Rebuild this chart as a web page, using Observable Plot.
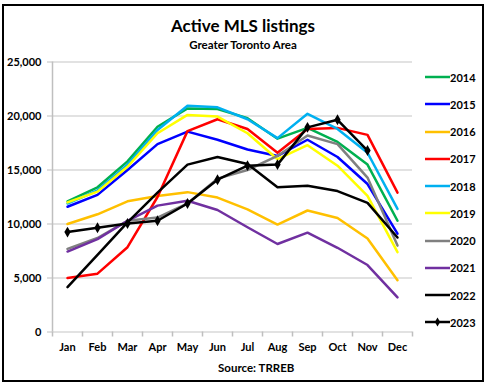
<!DOCTYPE html>
<html>
<head>
<meta charset="utf-8">
<script src="https://cdn.jsdelivr.net/npm/d3@7"></script>
<script src="https://cdn.jsdelivr.net/npm/@observablehq/plot@0.6"></script>
<style>
  html, body { margin: 0; padding: 0; background: #fff; }
  #wrap { position: relative; width: 491px; height: 389px; font-family: Lato, "Open Sans", sans-serif; font-weight: bold; color: #000; overflow: hidden; }
  #frame { position: absolute; left: 2px; top: 4px; width: 478px; height: 374px; border: 2px solid #000; }
  #chart { position: absolute; left: 0; top: 0; }
  .title { position: absolute; left: 0; width: 486px; text-align: center; white-space: nowrap; }
  #legend { position: absolute; left: 425px; top: 0; }
  .leg { position: absolute; left: 0; height: 14px; display: flex; align-items: center; font-size: 11px; white-space: nowrap; }
  .leg svg { display: block; }
</style>
</head>
<body>
<div id="wrap">
  <div id="chart"></div>
  <div class="title" style="top:15px;font-size:17px;">Active MLS listings</div>
  <div class="title" style="top:38px;font-size:11.5px;">Greater Toronto Area</div>
  <div id="legend"></div>
  <div class="title" style="top:361px;left:218px;width:auto;text-align:left;font-size:11.5px;">Source: TRREB</div>
  <div id="frame"></div>
</div>
<script>
const months = ["Jan","Feb","Mar","Apr","May","Jun","Jul","Aug","Sep","Oct","Nov","Dec"];
const years = ["2014","2015","2016","2017","2018","2019","2020","2021","2022","2023"];
const colors = ["#00b050","#0000ff","#ffc000","#ff0000","#00b0f0","#ffff00","#808080","#7030a0","#000000","#000000"];
const yTicks = [0, 5000, 10000, 15000, 20000, 25000];

const v2014 = [12100, 13400, 15800, 19000, 20700, 20650, 19800, 17900, 18900, 17600, 15500, 10300];
const v2015 = [11600, 12700, 15000, 17400, 18550, 17800, 16900, 16300, 17800, 16200, 13700, 9100];
const v2016 = [10000, 10900, 12100, 12600, 12950, 12450, 11350, 9950, 11250, 10550, 8650, 4800];
const v2017 = [5000, 5400, 7850, 12500, 18600, 19700, 18800, 16600, 18800, 18900, 18250, 12900];
const v2018 = [11900, 13100, 15500, 18700, 20950, 20800, 19700, 17950, 20200, 18800, 16600, 11400];
const v2019 = [12000, 13000, 15300, 18400, 20100, 19950, 18400, 16000, 17300, 15400, 12600, 7400];
const v2020 = [7700, 8700, 10300, 10600, 11900, 14200, 15000, 16300, 18200, 17400, 14300, 8000];
const v2021 = [7450, 8600, 10300, 11700, 12150, 11300, 9700, 8150, 9200, 7800, 6200, 3200];
const v2022 = [4150, 7150, 10150, 12900, 15500, 16200, 15550, 13400, 13550, 13050, 11950, 8750];
const v2023 = [9250, 9650, 10050, 10300, 11900, 14100, 15400, 15500, 18950, 19650, 16800];

const series = [v2014, v2015, v2016, v2017, v2018, v2019, v2020, v2021, v2022, v2023];
const rows = [];
series.forEach((vals, i) => vals.forEach((v, j) => rows.push({year: years[i], month: months[j], value: v})));
const rows2023 = rows.filter(d => d.year === "2023");

const colorOf = Object.fromEntries(years.map((y, i) => [y, colors[i]]));

const chart = Plot.plot({
  width: 491,
  height: 389,
  marginLeft: 52,
  marginRight: 79,
  marginTop: 61.5,
  marginBottom: 57.5,
  style: {fontFamily: "Lato, 'Open Sans', sans-serif", fontWeight: "bold", fontSize: "11px", color: "#000", background: "transparent", overflow: "visible"},
  x: {type: "point", domain: months, padding: 0.5, label: null},
  y: {domain: [0, 25000], label: null},
  color: {domain: years, range: colors},
  marks: [
    Plot.gridY(yTicks, {stroke: "#d9d9d9", strokeOpacity: 1, strokeWidth: 1.5}),
    Plot.ruleX(["Jan"], {dx: -15, y1: 0, y2: 25000, stroke: "#bfbfbf", strokeWidth: 1.5}),
    Plot.ruleX(months, {dx: -15, y1: 0, y2: 0, insetTop: 0, insetBottom: -5, stroke: "#bfbfbf", strokeWidth: 1.5}),
    Plot.ruleX(["Dec"], {dx: 15, y1: 0, y2: 0, insetTop: 0, insetBottom: -5, stroke: "#bfbfbf", strokeWidth: 1.5}),
    Plot.axisY({ticks: yTicks, tickFormat: d3.format(","), tickSize: 5, tickPadding: 6, stroke: "#bfbfbf", fill: "#000", fontWeight: "bold", fontSize: 11, label: null}),
    Plot.axisX({tickSize: 0, tickPadding: 11, fontWeight: "bold", fontSize: 11, label: null}),
    Plot.line(rows, {x: "month", y: "value", z: "year", stroke: d => colorOf[d.year], strokeWidth: 2.5, curve: "linear"}),
    Plot.dot(rows2023, {x: "month", y: "value", symbol: "diamond", r: 3.3, fill: "#000"})
  ]
});
document.getElementById("chart").appendChild(chart);

// Legend
const legend = document.getElementById("legend");
const legendTop = 77, legendStep = 27.25;
years.forEach((y, i) => {
  const div = document.createElement("div");
  div.className = "leg";
  div.style.top = (legendTop + i * legendStep - 7) + "px";
  const s = d3.create("svg").attr("width", 25).attr("height", 14);
  s.append("line").attr("x1", 0).attr("x2", 25).attr("y1", 7).attr("y2", 7)
    .attr("stroke", colors[i]).attr("stroke-width", 2.5);
  if (y === "2023") s.append("path").attr("d", d3.symbol(d3.symbolDiamond, 24)()).attr("transform", "translate(12.5,7)").attr("fill", "#000");
  div.appendChild(s.node());
  const t = document.createElement("span");
  t.textContent = y;
  div.appendChild(t);
  legend.appendChild(div);
});
</script>
</body>
</html>
